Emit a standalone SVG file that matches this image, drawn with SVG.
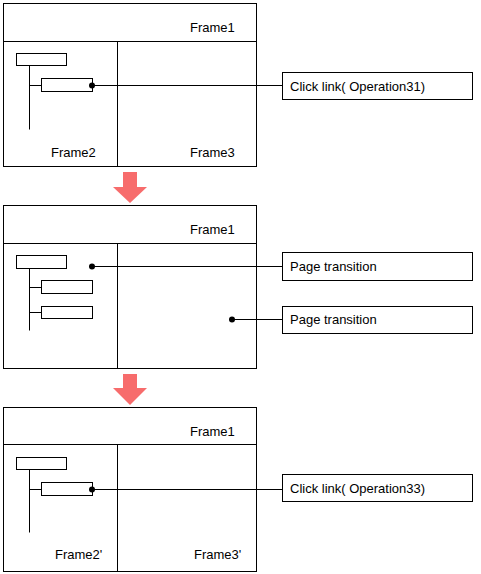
<svg xmlns="http://www.w3.org/2000/svg" width="481" height="574" viewBox="0 0 481 574">
<style>
.f{fill:#fff;stroke:#000;stroke-width:1}
.l{fill:none;stroke:#000;stroke-width:1}
.t{font-family:"Liberation Sans",Arial,sans-serif;font-size:13px;fill:#000}
.d{fill:#000}
.a{fill:#f76c6c}
</style>
<rect width="481" height="574" fill="#fff"/>
<g id="screen1">
<rect class="f" x="3.5" y="3.5" width="253" height="163"/>
<line class="l" x1="3.5" y1="41.5" x2="256.5" y2="41.5"/>
<line class="l" x1="117.5" y1="41.5" x2="117.5" y2="166.5"/>
<text class="t" x="190" y="32">Frame1</text>
<text class="t" x="51" y="157">Frame2</text>
<text class="t" x="190" y="157">Frame3</text>
<rect class="f" x="16.5" y="53.5" width="50" height="12"/>
<line class="l" x1="29.5" y1="65.5" x2="29.5" y2="129.5"/>
<line class="l" x1="29.5" y1="85.5" x2="41.5" y2="85.5"/>
<rect class="f" x="41.5" y="78.5" width="51" height="13"/>
</g>
<g id="label1">
<rect class="f" x="282.5" y="72.5" width="190" height="27"/>
<text class="t" x="290" y="91">Click link( Operation31)</text>
</g>
<g id="arrow1"><polygon class="a" points="123,172 137,172 137,187 147,187 130,203 113,187 123,187"/></g>
<g id="screen2">
<rect class="f" x="3.5" y="205.5" width="253" height="163"/>
<line class="l" x1="3.5" y1="243.5" x2="256.5" y2="243.5"/>
<line class="l" x1="117.5" y1="243.5" x2="117.5" y2="368.5"/>
<text class="t" x="190" y="234">Frame1</text>
<rect class="f" x="16.5" y="255.5" width="50" height="13"/>
<line class="l" x1="29.5" y1="268.5" x2="29.5" y2="330.5"/>
<line class="l" x1="29.5" y1="287.5" x2="41.5" y2="287.5"/>
<rect class="f" x="41.5" y="280.5" width="51" height="13"/>
<line class="l" x1="29.5" y1="312.5" x2="41.5" y2="312.5"/>
<rect class="f" x="41.5" y="306.5" width="51" height="12"/>
</g>
<g id="label2">
<rect class="f" x="282.5" y="252.5" width="190" height="28"/>
<text class="t" x="290" y="271">Page transition</text>
</g>
<g id="label3">
<rect class="f" x="282.5" y="306.5" width="190" height="27"/>
<text class="t" x="290" y="324">Page transition</text>
</g>
<g id="arrow2"><polygon class="a" points="123,374 137,374 137,388 147,388 130,405 113,388 123,388"/></g>
<g id="screen3">
<rect class="f" x="3.5" y="407.5" width="253" height="164"/>
<line class="l" x1="3.5" y1="444.5" x2="256.5" y2="444.5"/>
<line class="l" x1="117.5" y1="444.5" x2="117.5" y2="571.5"/>
<text class="t" x="190" y="436">Frame1</text>
<text class="t" x="55" y="559">Frame2'</text>
<text class="t" x="194" y="559">Frame3'</text>
<rect class="f" x="16.5" y="457.5" width="50" height="12"/>
<line class="l" x1="29.5" y1="469.5" x2="29.5" y2="532.5"/>
<line class="l" x1="29.5" y1="489.5" x2="41.5" y2="489.5"/>
<rect class="f" x="41.5" y="482.5" width="51" height="13"/>
</g>
<g id="label4">
<rect class="f" x="282.5" y="474.5" width="190" height="27"/>
<text class="t" x="290" y="493">Click link( Operation33)</text>
</g>
<g id="connectors">
<line class="l" x1="92" y1="85.5" x2="282.5" y2="85.5"/>
<circle class="d" cx="92" cy="85.5" r="3"/>
<line class="l" x1="92" y1="266.5" x2="282.5" y2="266.5"/>
<circle class="d" cx="92" cy="266.5" r="3"/>
<line class="l" x1="232" y1="319.5" x2="282.5" y2="319.5"/>
<circle class="d" cx="232" cy="319.5" r="3"/>
<line class="l" x1="92" y1="489.5" x2="282.5" y2="489.5"/>
<circle class="d" cx="92" cy="489.5" r="3"/>
</g>
</svg>
